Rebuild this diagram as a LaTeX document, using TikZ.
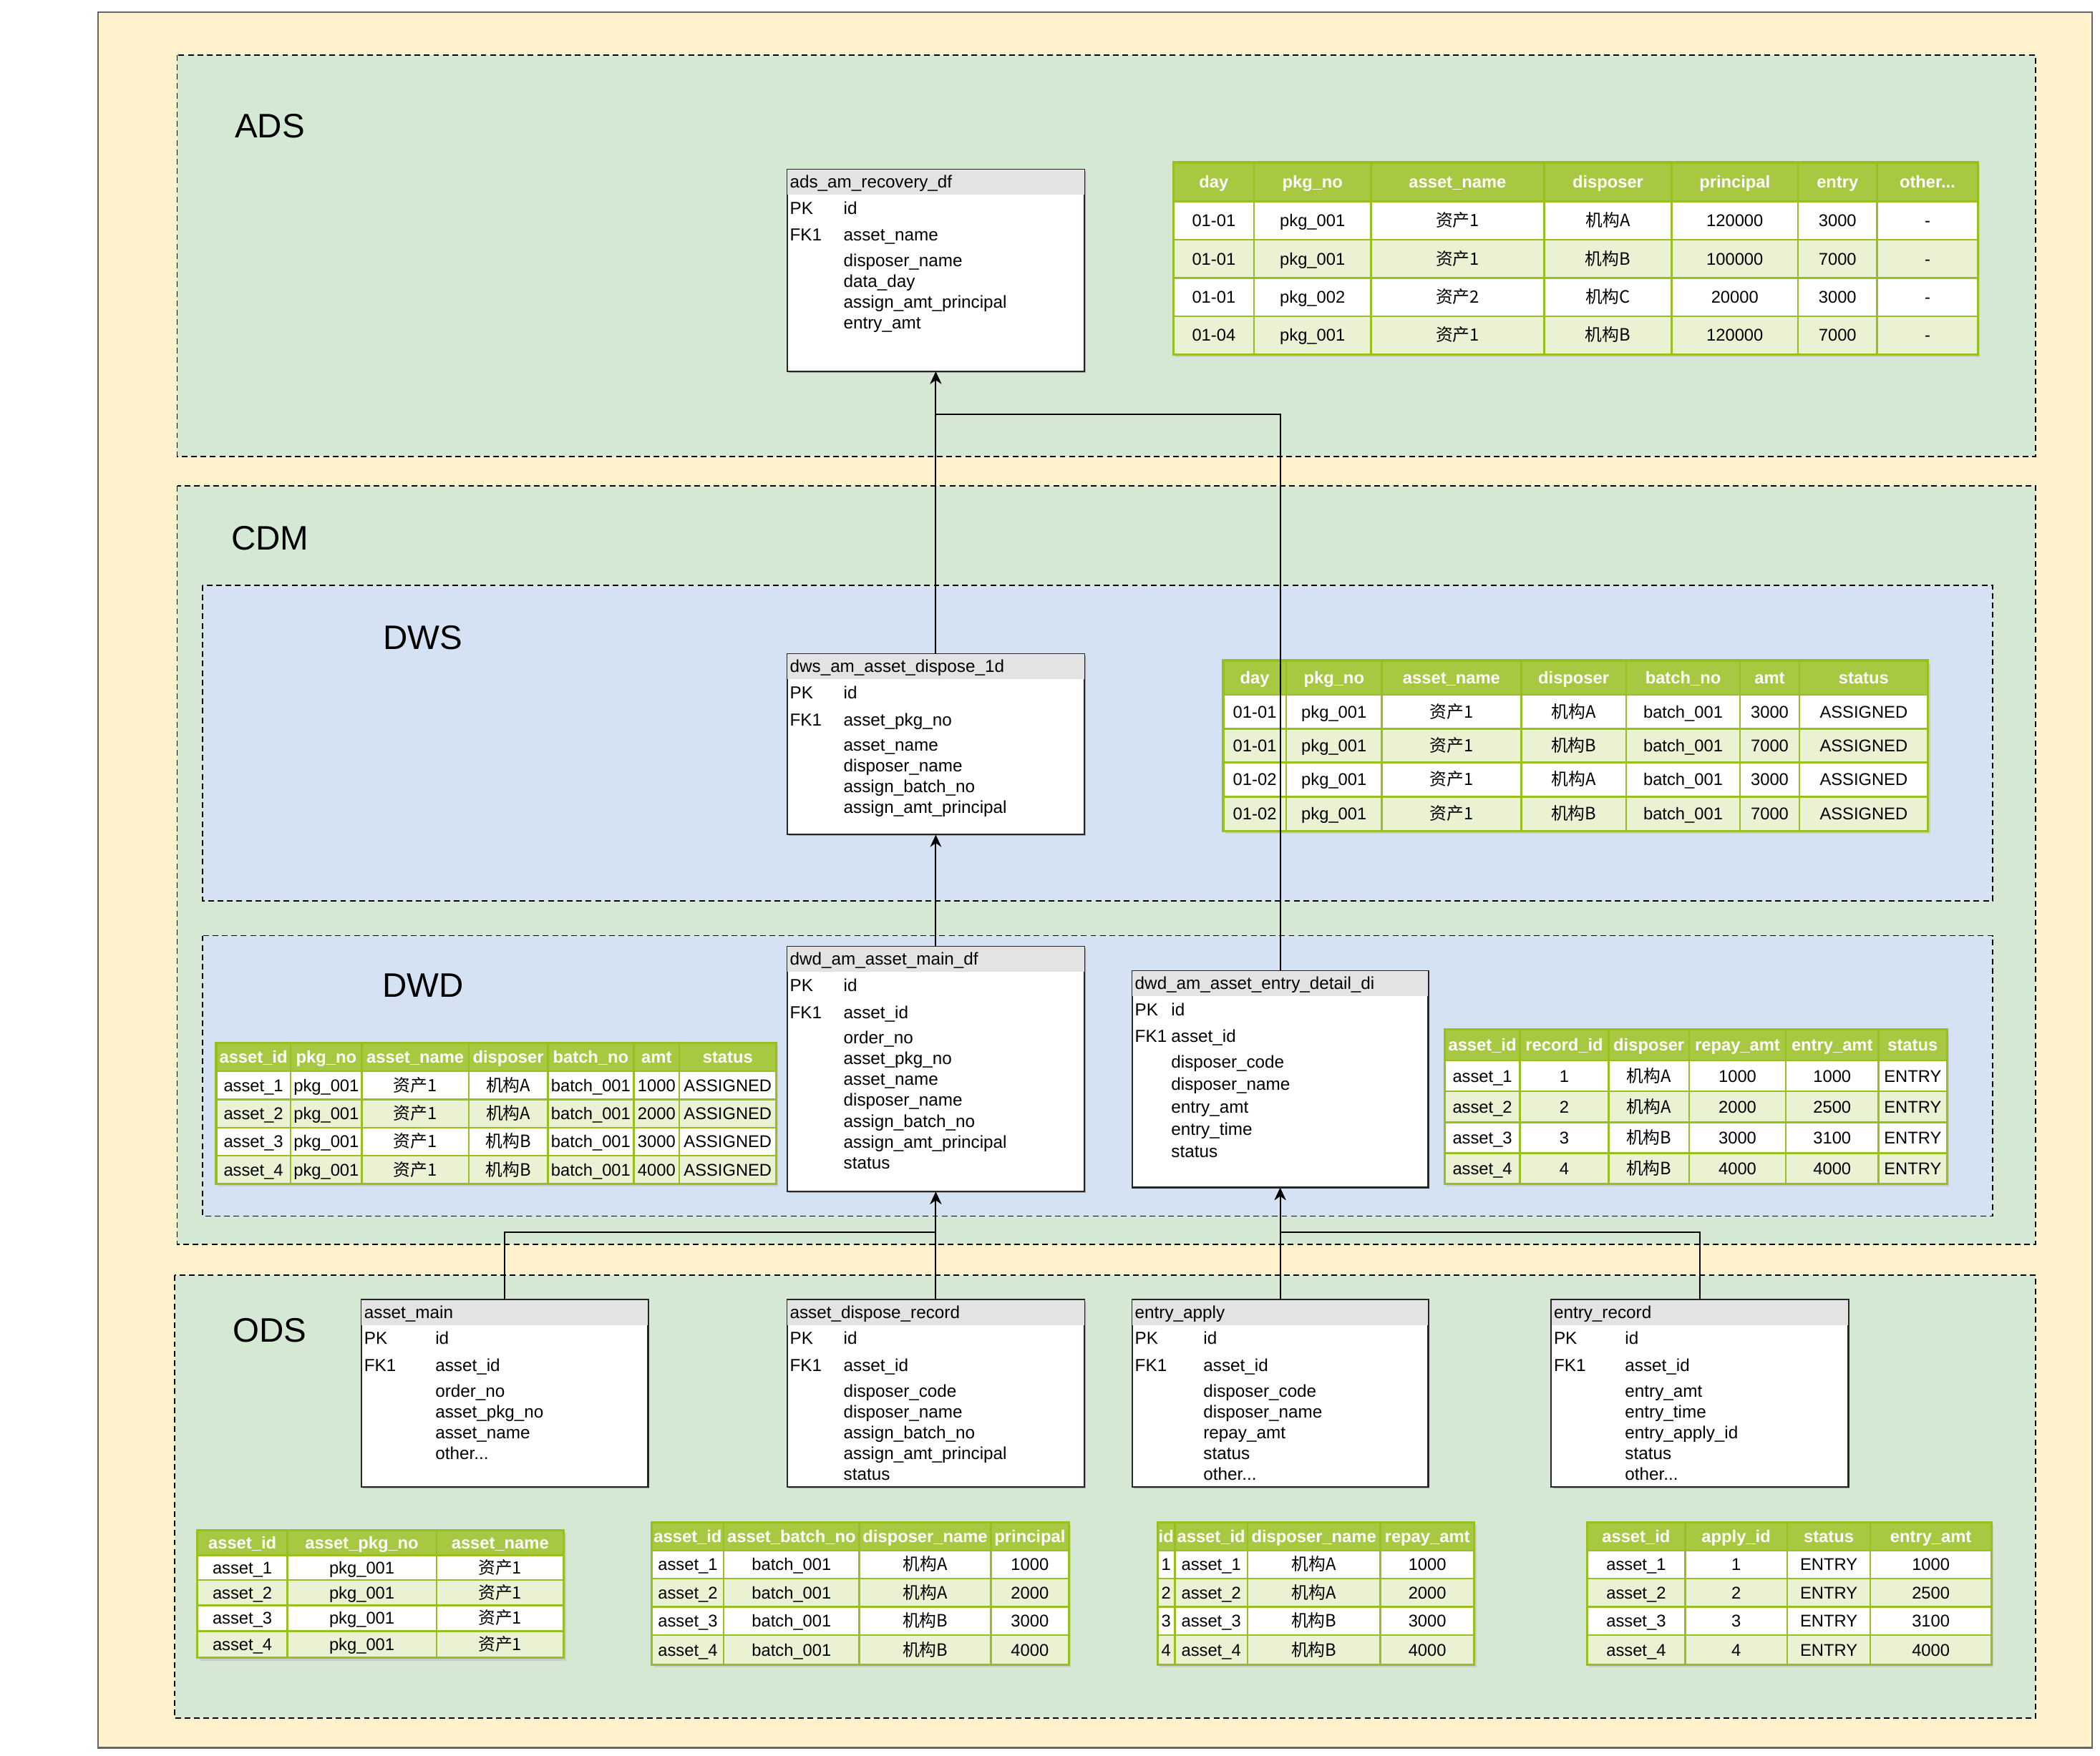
\documentclass[tikz,border=0pt]{standalone}
\usepackage{fontspec}
\setmainfont{Liberation Sans}
\newfontfamily\cjk{Noto Sans CJK SC}
\usetikzlibrary{arrows.meta,calc}

\definecolor{outeryellow}{HTML}{FFF2CC}
\definecolor{layergreen}{HTML}{D5E8D4}
\definecolor{layerblue}{HTML}{D5E2F4}
\definecolor{hdrgreen}{HTML}{A7C942}
\definecolor{rowgreen}{HTML}{EAF2D3}
\definecolor{gridgreen}{HTML}{98BF21}
\definecolor{hdrgray}{HTML}{E3E3E3}

\newcommand{\px}{0.025cm}
\newcommand{\othertxt}{other...}

\tikzset{
  layer/.style={draw=black, dash pattern=on 3pt off 2pt, line width=0.6pt},
  layername/.style={inner sep=0pt, font=\fontsize{18}{20}\selectfont},
  entbox/.style={draw=black!85, fill=white, line width=0.6pt, anchor=north west, inner sep=0pt},
  enttext/.style={anchor=west, inner sep=0pt, text height=6.5pt, text depth=0pt, font=\fontsize{9.2}{11}\selectfont},
  celltext/.style={inner sep=0pt, text height=6.4pt, text depth=0pt, font=\fontsize{9}{11}\selectfont},
  hdrtext/.style={inner sep=0pt, text height=6.4pt, text depth=0pt, text=white, font=\fontsize{9}{11}\selectfont\bfseries},
  flow/.style={-{Stealth[length=6.5pt,width=6pt]}, line width=0.7pt},
}

% entity box: name, corner, width, height, title, key x, field x, line step, fields
\newcommand{\entity}[9]{%
  \fill[black!35] ($(#2)+(1.5,1.5)$) rectangle ++(#3,#4);
  \node[entbox, minimum width=#3*\px, minimum height=#4*\px] (#1) at (#2) {};
  \fill[hdrgray] (#1.north west) rectangle ($(#1.north east)+(0,19)$);
  \draw[black!85, line width=0.6pt] (#1.north west) rectangle (#1.south east);
  \node[enttext] (#1-title) at ($(#1.north west)+(2,9.5)$) {#5};
  \node[enttext] (#1-pk) at ($(#1.north west)+(#6,29)$) {PK};
  \node[enttext] (#1-fk) at ($(#1.north west)+(#6,49)$) {FK1};
  \foreach \f [count=\n] in {#9} {
    \pgfmathsetmacro\dy{\n==1 ? 29 : (\n==2 ? 49 : 68+#8*(\n-3))}
    \node[enttext] (#1-f\n) at ($(#1.north west)+(#7,\dy)$) {\f};
  }
}

% green data table: name, column edges, row edges, header, rows
\newcommand{\datatable}[5]{%
  \def\xb{{#2}}\def\yb{{#3}}
  \pgfmathtruncatemacro\nc{dim(\xb)-1}
  \pgfmathtruncatemacro\ncm{\nc-1}
  \pgfmathsetmacro\xl{\xb[0]}\pgfmathsetmacro\xr{\xb[\nc]}
  \pgfmathsetmacro\yt{\yb[0]}\pgfmathsetmacro\yh{\yb[1]}\pgfmathsetmacro\ybt{\yb[5]}
  \fill[black!20] (\xl+1.5,\yt+2) rectangle (\xr+1.5,\ybt+2);
  \node[fill=white, inner sep=0pt, anchor=north west,
        minimum width={(\xr-\xl)*\px}, minimum height={(\ybt-\yt)*\px}] (#1) at (\xl,\yt) {};
  \fill[hdrgreen] (\xl,\yt) rectangle (\xr,\yh);
  \foreach \r in {2,4} {
    \pgfmathsetmacro\ya{\yb[\r]}\pgfmathsetmacro\yc{\yb[\r+1]}
    \fill[rowgreen] (\xl,\ya) rectangle (\xr,\yc);
  }
  \foreach \k in {1,...,\ncm} {
    \pgfmathsetmacro\xx{\xb[\k]}
    \draw[gridgreen, line width=0.9pt] (\xx,\yt) -- (\xx,\ybt);
  }
  \foreach \k in {1,...,4} {
    \pgfmathsetmacro\yy{\yb[\k]}
    \draw[gridgreen, line width=0.9pt] (\xl,\yy) -- (\xr,\yy);
  }
  \draw[gridgreen, line width=1.2pt] (\xl,\yt) rectangle (\xr,\ybt);
  \foreach \h [count=\j] in {#4} {
    \pgfmathsetmacro\xa{\xb[\j-1]}\pgfmathsetmacro\xc{\xb[\j]}
    \node[hdrtext] (#1-h\j) at ({(\xa+\xc)/2},{(\yt+\yh)/2}) {\h};
  }
  \foreach \row [count=\i] in {#5} {
    \pgfmathsetmacro\ya{\yb[\i]}\pgfmathsetmacro\yc{\yb[\i+1]}
    \foreach \cell [count=\j] in \row {
      \pgfmathsetmacro\xa{\xb[\j-1]}\pgfmathsetmacro\xc{\xb[\j]}
      \node[celltext] (#1-\i-\j) at ({(\xa+\xc)/2},{(\ya+\yc)/2}) {\cell};
    }
  }
}

\begin{document}
\catcode`\_=12
\begin{tikzpicture}[x=\px,y=-\px]
\useasboundingbox (0,0) rectangle (1564,1308);
\fill[white] (0,0) rectangle (1564,1308);

% layers
\draw[fill=outeryellow, draw=black!60, line width=0.8pt] (73,9) rectangle (1558,1302);
\draw[layer, fill=layergreen] (132,41) rectangle (1516,340);
\draw[layer, fill=layergreen] (132,362) rectangle (1516,927);
\draw[layer, fill=layerblue] (151,436) rectangle (1484,671);
\draw[layer, fill=layerblue] (151,697) rectangle (1484,906);
\draw[layer, fill=layergreen] (130,950) rectangle (1516,1280);

\node[layername] (adsName) at (201,94) {ADS};
\node[layername] (cdmName) at (201,401) {CDM};
\node[layername] (dwsName) at (315,475) {DWS};
\node[layername] (dwdName) at (315,734) {DWD};
\node[layername] (odsName) at (201,991) {ODS};

% tables of the model
\entity{recovery}{586,126}{221}{150}{ads_am_recovery_df}{2}{42}{15.5}
  {id,asset_name,disposer_name,data_day,assign_amt_principal,entry_amt}
\entity{dispose1d}{586,487}{221}{134}{dws_am_asset_dispose_1d}{2}{42}{15.5}
  {id,asset_pkg_no,asset_name,disposer_name,assign_batch_no,assign_amt_principal}
\entity{mainDf}{586,705}{221}{182}{dwd_am_asset_main_df}{2}{42}{15.5}
  {id,asset_id,order_no,asset_pkg_no,asset_name,disposer_name,assign_batch_no,assign_amt_principal,status}
\entity{entryDetail}{843,723}{220}{161}{dwd_am_asset_entry_detail_di}{2}{29}{16.7}
  {id,asset_id,disposer_code,disposer_name,entry_amt,entry_time,status}
\entity{assetMain}{269,968}{213}{139}{asset_main}{2}{55}{15.5}
  {id,asset_id,order_no,asset_pkg_no,asset_name,\othertxt}
\entity{disposeRecord}{586,968}{221}{139}{asset_dispose_record}{2}{42}{15.5}
  {id,asset_id,disposer_code,disposer_name,assign_batch_no,assign_amt_principal,status}
\entity{entryApply}{843,968}{220}{139}{entry_apply}{2}{53}{15.5}
  {id,asset_id,disposer_code,disposer_name,repay_amt,status,\othertxt}
\entity{entryRecord}{1155,968}{221}{139}{entry_record}{2}{55}{15.5}
  {id,asset_id,entry_amt,entry_time,entry_apply_id,status,\othertxt}

% sample data
\datatable{adsTab}{874,934,1021,1150,1245,1339,1398,1473}{121,150,178.5,207,235.5,264}
  {day,pkg_no,asset_name,disposer,principal,entry,\othertxt}
  {{01-01,pkg_001,\cjk 资产1,\cjk 机构A,120000,3000,-},
   {01-01,pkg_001,\cjk 资产1,\cjk 机构B,100000,7000,-},
   {01-01,pkg_002,\cjk 资产2,\cjk 机构C,20000,3000,-},
   {01-04,pkg_001,\cjk 资产1,\cjk 机构B,120000,7000,-}}
\datatable{dwsTab}{911,958,1029,1133,1211,1296,1340,1436}{492,517.5,543,568,593.5,619}
  {day,pkg_no,asset_name,disposer,batch_no,amt,status}
  {{01-01,pkg_001,\cjk 资产1,\cjk 机构A,batch_001,3000,ASSIGNED},
   {01-01,pkg_001,\cjk 资产1,\cjk 机构B,batch_001,7000,ASSIGNED},
   {01-02,pkg_001,\cjk 资产1,\cjk 机构A,batch_001,3000,ASSIGNED},
   {01-02,pkg_001,\cjk 资产1,\cjk 机构B,batch_001,7000,ASSIGNED}}
\datatable{dwdTab}{161,216.5,269.5,349,408,472,506,578}{777,798,819,840,861,882}
  {asset_id,pkg_no,asset_name,disposer,batch_no,amt,status}
  {{asset_1,pkg_001,\cjk 资产1,\cjk 机构A,batch_001,1000,ASSIGNED},
   {asset_2,pkg_001,\cjk 资产1,\cjk 机构A,batch_001,2000,ASSIGNED},
   {asset_3,pkg_001,\cjk 资产1,\cjk 机构B,batch_001,3000,ASSIGNED},
   {asset_4,pkg_001,\cjk 资产1,\cjk 机构B,batch_001,4000,ASSIGNED}}
\datatable{entryTab}{1076,1132,1198,1258,1330,1399,1450}{767,790,813,836,859,882}
  {asset_id,record_id,disposer,repay_amt,entry_amt,status}
  {{asset_1,1,\cjk 机构A,1000,1000,ENTRY},
   {asset_2,2,\cjk 机构A,2000,2500,ENTRY},
   {asset_3,3,\cjk 机构B,3000,3100,ENTRY},
   {asset_4,4,\cjk 机构B,4000,4000,ENTRY}}
\datatable{odsMainTab}{147,214,325,420}{1140,1158.5,1177,1196,1215,1235}
  {asset_id,asset_pkg_no,asset_name}
  {{asset_1,pkg_001,\cjk 资产1},
   {asset_2,pkg_001,\cjk 资产1},
   {asset_3,pkg_001,\cjk 资产1},
   {asset_4,pkg_001,\cjk 资产1}}
\datatable{odsDisposeTab}{485.5,539,640,738,796}{1134,1155,1176,1197,1218,1240}
  {asset_id,asset_batch_no,disposer_name,principal}
  {{asset_1,batch_001,\cjk 机构A,1000},
   {asset_2,batch_001,\cjk 机构A,2000},
   {asset_3,batch_001,\cjk 机构B,3000},
   {asset_4,batch_001,\cjk 机构B,4000}}
\datatable{odsApplyTab}{862,875,929,1028,1098}{1134,1155,1176,1197,1218,1240}
  {id,asset_id,disposer_name,repay_amt}
  {{1,asset_1,\cjk 机构A,1000},
   {2,asset_2,\cjk 机构A,2000},
   {3,asset_3,\cjk 机构B,3000},
   {4,asset_4,\cjk 机构B,4000}}
\datatable{odsRecordTab}{1182,1255,1331,1393,1483}{1134,1155,1176,1197,1218,1240}
  {asset_id,apply_id,status,entry_amt}
  {{asset_1,1,ENTRY,1000},
   {asset_2,2,ENTRY,2500},
   {asset_3,3,ENTRY,3100},
   {asset_4,4,ENTRY,4000}}

% lineage
\coordinate (adsJoin) at ($(recovery.south)+(0,32)$);
\coordinate (odsJoin) at ($(mainDf.south)+(0,30)$);
\coordinate (entryJoin) at ($(entryDetail.south)+(0,33)$);
\draw[flow] (dispose1d.north) -- (recovery.south);
\draw[flow] (entryDetail.north) |- (adsJoin) -- (recovery.south);
\draw[flow] (mainDf.north) -- (dispose1d.south);
\draw[flow] (assetMain.north) |- (odsJoin) -- (mainDf.south);
\draw[flow] (disposeRecord.north) -- (mainDf.south);
\draw[flow] (entryApply.north) -- (entryDetail.south);
\draw[flow] (entryRecord.north) |- (entryJoin) -- (entryDetail.south);

\end{tikzpicture}
\end{document}
